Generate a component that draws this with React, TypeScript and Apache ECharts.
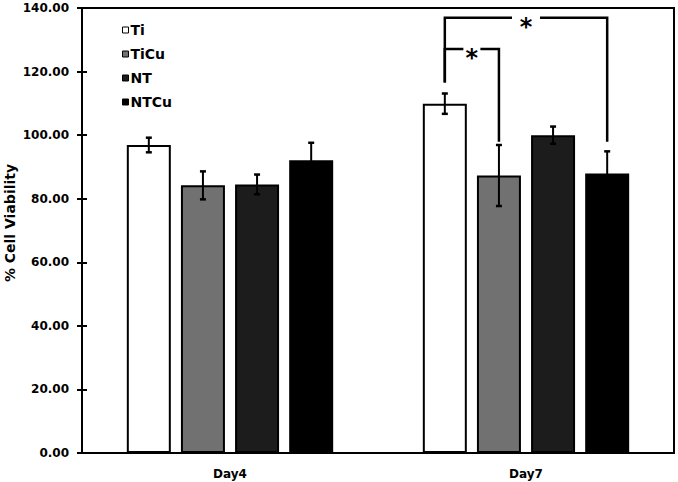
import React, { useEffect, useRef } from "react";
import * as echarts from "echarts";

const CATEGORIES = ["Day4", "Day7"];
const SERIES_NAMES = ["Ti", "TiCu", "NT", "NTCu"];
const TI = [96.9, 109.9];
const TI_ERR = [2.3, 3.2];
const TICU = [84.2, 87.3];
const TICU_ERR = [4.4, 9.6];
const NT = [84.5, 100.0];
const NT_ERR = [3.1, 2.7];
const NTCU = [92.1, 87.9];
const NTCU_ERR = [5.5, 7.0];
const Y_MIN = 0;
const Y_MAX = 140;
const Y_STEP = 20;
const Y_NAME = "% Cell Viability";

// significance brackets: [category, fromSeries, toSeries, topValue, fromEndValue, toEndValue]
const BRACKET_OUTER = [1, 0, 3, 136.9, 116.6, 97.9];
const BRACKET_INNER = [1, 0, 1, 127.1, 116.6, 97.9];
const BRACKET_LABELS = ["*", "*"];

const COLORS = ["#ffffff", "#717171", "#1c1c1c", "#000000"];
const FONT = "DejaVu Sans";
const BAR_W = 44;
const GAP_RATIO = 0.23;
const SLOT = BAR_W * (1 + GAP_RATIO);
const STAR_GAPS = [14, 8.5];

export default function App() {
  const ref = useRef<HTMLDivElement>(null);
  useEffect(() => {
    document.body.style.margin = "0";
    const chart = echarts.init(ref.current!, null, { renderer: "svg" });
    const values = [TI, TICU, NT, NTCU];
    const errs = [TI_ERR, TICU_ERR, NT_ERR, NTCU_ERR];

    const barSeries = SERIES_NAMES.map((name, i) => ({
      name,
      type: "bar",
      data: values[i],
      barWidth: BAR_W,
      barGap: GAP_RATIO * 100 + "%",
      itemStyle: { color: COLORS[i], borderColor: "#000", borderWidth: 2 },
      z: 2,
    }));

    const errData: number[][] = [];
    values.forEach((arr, s) =>
      arr.forEach((v, c) => errData.push([c, v, errs[s][c], s]))
    );

    const errorSeries = {
      type: "custom",
      name: "err",
      z: 5,
      encode: { x: 0, y: 1 },
      data: errData,
      renderItem: (params: any, api: any) => {
        const c = api.value(0);
        const v = api.value(1);
        const e = api.value(2);
        const s = api.value(3);
        const x = api.coord([c, 0])[0] + (s - 1.5) * SLOT;
        const yHi = api.coord([c, v + e])[1];
        const yLo = api.coord([c, v - e])[1];
        const cap = 3;
        const st = { stroke: "#000", lineWidth: 2 };
        const capSt = { stroke: "#000", lineWidth: 2.5 };
        return {
          type: "group",
          children: [
            { type: "line", shape: { x1: x, y1: yHi, x2: x, y2: yLo }, style: st },
            { type: "line", shape: { x1: x - cap, y1: yHi, x2: x + cap, y2: yHi }, style: capSt },
            { type: "line", shape: { x1: x - cap, y1: yLo, x2: x + cap, y2: yLo }, style: capSt },
          ],
        };
      },
    };

    const brackets = [BRACKET_OUTER, BRACKET_INNER];
    const bracketSeries = {
      type: "custom",
      name: "sig",
      z: 6,
      encode: { x: 0, y: 3 },
      data: brackets,
      renderItem: (params: any, api: any) => {
        const idx = params.dataIndex;
        const c = api.value(0);
        const f = api.value(1);
        const t = api.value(2);
        const base = api.coord([c, 0])[0];
        const x1 = base + (f - 1.5) * SLOT;
        const x2 = base + (t - 1.5) * SLOT;
        const yTop = api.coord([c, api.value(3)])[1];
        const y1 = api.coord([c, api.value(4)])[1];
        const y2 = api.coord([c, api.value(5)])[1];
        const mid = (x1 + x2) / 2;
        const g = STAR_GAPS[idx];
        const st = { stroke: "#000", lineWidth: 2.5, fill: null };
        return {
          type: "group",
          children: [
            { type: "polyline", shape: { points: [[x1, y1], [x1, yTop], [mid - g, yTop]] }, style: st },
            { type: "polyline", shape: { points: [[mid + g, yTop], [x2, yTop], [x2, y2]] }, style: st },
            {
              type: "text",
              x: mid,
              y: yTop + 9,
              style: {
                text: BRACKET_LABELS[idx],
                fontFamily: FONT,
                fontWeight: "bold",
                fontSize: 24,
                fill: "#000",
                align: "center",
                verticalAlign: "middle",
              },
            },
          ],
        };
      },
    };

    chart.setOption({
      animation: false,
      backgroundColor: "#fff",
      grid: {
        left: 82,
        right: 4,
        top: 8,
        bottom: 29,
        show: true,
        borderColor: "#000",
        borderWidth: 2,
        backgroundColor: "transparent",
        outerBoundsMode: "none",
        containLabel: false,
      },
      graphic: [
        {
          type: "text",
          x: 10,
          y: 223,
          rotation: Math.PI / 2,
          style: {
            text: Y_NAME,
            fontFamily: FONT,
            fontWeight: "bold",
            fontSize: 14,
            fill: "#000",
            align: "center",
            verticalAlign: "middle",
          },
        },
      ],
      legend: {
        data: SERIES_NAMES,
        orient: "vertical",
        left: 122,
        top: 23,
        padding: 0,
        itemGap: 10,
        icon: "rect",
        itemWidth: 6,
        itemHeight: 6,
        itemStyle: { borderColor: "#000", borderWidth: 1 },
        textStyle: { fontFamily: FONT, fontWeight: "bold", fontSize: 14, color: "#000", padding: [0, 0, 0, -3] },
      },
      xAxis: {
        type: "category",
        data: CATEGORIES,
        axisLine: { lineStyle: { color: "#000", width: 2 } },
        axisTick: { show: false },
        axisLabel: { fontFamily: FONT, fontWeight: "bold", fontSize: 12, color: "#000", margin: 15 },
      },
      yAxis: [
        {
          type: "value",
          min: Y_MIN,
          max: Y_MAX,
          interval: Y_STEP,
          axisLine: { show: true, lineStyle: { color: "#000", width: 2 } },
          axisTick: { show: true, length: 5, lineStyle: { color: "#000", width: 2 } },
          splitLine: { show: false },
          axisLabel: {
            fontFamily: FONT,
            fontWeight: "bold",
            fontSize: 12,
            color: "#000",
            margin: 13,
            formatter: (v: number) => v.toFixed(2),
          },
        },
        {
          type: "value",
          position: "left",
          min: Y_MIN,
          max: Y_MAX,
          interval: Y_STEP,
          axisLine: { show: false },
          axisTick: { show: true, inside: true, length: 5, lineStyle: { color: "#000", width: 2 } },
          splitLine: { show: false },
          axisLabel: { show: false },
        },
      ],
      series: [...barSeries, errorSeries, bracketSeries],
    });
    return () => chart.dispose();
  }, []);
  return <div ref={ref} style={{ width: 678, height: 482 }} />;
}
